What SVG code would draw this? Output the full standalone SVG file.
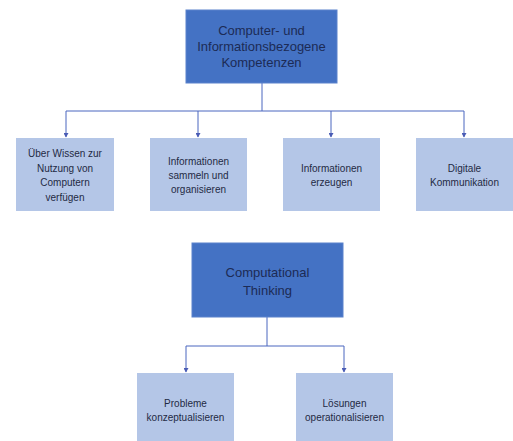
<svg xmlns="http://www.w3.org/2000/svg" width="513" height="441" viewBox="0 0 513 441">
  <style>
    .main { fill: #4472c4; stroke: #5a82cc; stroke-width: 1; }
    .sub { fill: #b4c6e7; }
    .t-main { font-family: "Liberation Sans", "Open Sans", sans-serif; font-size: 13px; fill: #1c2b55; text-anchor: middle; }
    .t-sub { font-family: "Liberation Sans", "Open Sans", sans-serif; font-size: 10px; fill: #1f2a44; text-anchor: middle; }
    .link { fill: none; stroke: #4a66bf; stroke-width: 1; }
  </style>
  <defs>
    <marker id="arrow" markerWidth="5" markerHeight="5" refX="4" refY="2.5" orient="auto" markerUnits="userSpaceOnUse">
      <path d="M0,0 L4.5,2.5 L0,5 Z" fill="#4a5cb5"/>
    </marker>
  </defs>
  <rect width="513" height="441" fill="#ffffff"/>

  <g id="connectors">
    <path class="link" d="M262,83 V111"/>
    <path class="link" d="M66,111 H464"/>
    <path class="link" d="M66,111 V137" marker-end="url(#arrow)"/>
    <path class="link" d="M198,111 V137" marker-end="url(#arrow)"/>
    <path class="link" d="M331,111 V137" marker-end="url(#arrow)"/>
    <path class="link" d="M464,111 V137" marker-end="url(#arrow)"/>
    <path class="link" d="M267,317 V346"/>
    <path class="link" d="M186,346 H344"/>
    <path class="link" d="M186,346 V372" marker-end="url(#arrow)"/>
    <path class="link" d="M344,346 V372" marker-end="url(#arrow)"/>
  </g>

  <g id="computer-kompetenzen">
    <rect class="main" x="186" y="10" width="151" height="73"/>
    <text class="t-main" x="261.5" y="35">Computer- und</text>
    <text class="t-main" x="261.5" y="51">Informationsbezogene</text>
    <text class="t-main" x="261.5" y="67">Kompetenzen</text>
  </g>

  <g id="wissen-nutzung">
    <rect class="sub" x="16" y="138" width="98" height="73"/>
    <text class="t-sub" x="65" y="157">Über Wissen zur</text>
    <text class="t-sub" x="65" y="171.5">Nutzung von</text>
    <text class="t-sub" x="65" y="186">Computern</text>
    <text class="t-sub" x="65" y="200.5">verfügen</text>
  </g>

  <g id="informationen-sammeln">
    <rect class="sub" x="150" y="138" width="97" height="73"/>
    <text class="t-sub" x="198.5" y="165">Informationen</text>
    <text class="t-sub" x="198.5" y="179">sammeln und</text>
    <text class="t-sub" x="198.5" y="193">organisieren</text>
  </g>

  <g id="informationen-erzeugen">
    <rect class="sub" x="283" y="138" width="97" height="73"/>
    <text class="t-sub" x="331.5" y="172">Informationen</text>
    <text class="t-sub" x="331.5" y="186">erzeugen</text>
  </g>

  <g id="digitale-kommunikation">
    <rect class="sub" x="416" y="138" width="97" height="73"/>
    <text class="t-sub" x="464.5" y="172">Digitale</text>
    <text class="t-sub" x="464.5" y="186">Kommunikation</text>
  </g>

  <g id="computational-thinking">
    <rect class="main" x="192" y="243" width="151" height="74"/>
    <text class="t-main" x="267.5" y="277" font-size="14">Computational</text>
    <text class="t-main" x="267.5" y="295" font-size="14">Thinking</text>
  </g>

  <g id="probleme-konzeptualisieren">
    <rect class="sub" x="137" y="373" width="97" height="68"/>
    <text class="t-sub" x="185.5" y="407">Probleme</text>
    <text class="t-sub" x="185.5" y="421">konzeptualisieren</text>
  </g>

  <g id="loesungen-operationalisieren">
    <rect class="sub" x="296" y="373" width="97" height="68"/>
    <text class="t-sub" x="344.5" y="407">Lösungen</text>
    <text class="t-sub" x="344.5" y="421">operationalisieren</text>
  </g>
</svg>
